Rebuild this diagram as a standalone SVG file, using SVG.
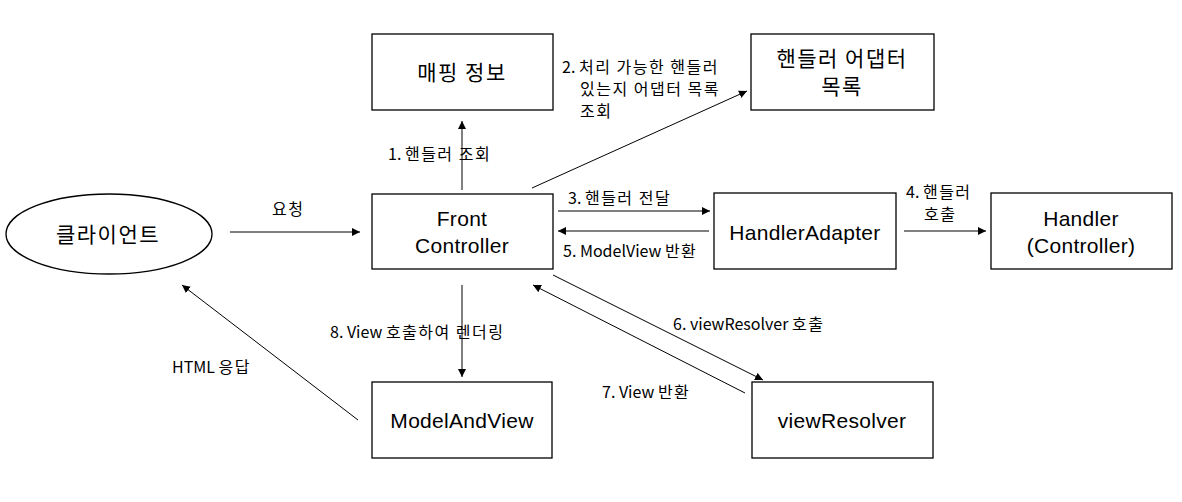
<svg xmlns="http://www.w3.org/2000/svg" width="1182" height="502" viewBox="0 0 1182 502">
<style>
.box{fill:#fff;stroke:#000;stroke-width:1.3}
.nt{font-family:"Noto Sans CJK KR","Noto Sans",sans-serif;font-size:21px;text-anchor:middle;fill:#000;letter-spacing:0.3px}
.lt{font-family:"Liberation Sans","Noto Sans",sans-serif;font-size:21px;text-anchor:middle;fill:#000;letter-spacing:0.3px}
.lb{font-family:"Noto Sans CJK KR","Noto Sans",sans-serif;font-size:16px;fill:#000}
.k{letter-spacing:1.5px}
.ln{stroke:#000;stroke-width:1;fill:none;marker-end:url(#ah)}
</style>
<defs>
<marker id="ah" viewBox="0 0 10 10" refX="10" refY="5" markerWidth="8" markerHeight="8" markerUnits="userSpaceOnUse" orient="auto">
<path d="M0,0 L10,5 L0,10 z" fill="#000"/>
</marker>
</defs>
<rect width="1182" height="502" fill="#fff"/>
<g id="client"><ellipse class="box" cx="109" cy="234" rx="103" ry="40"/><text class="nt k" x="108" y="242">클라이언트</text></g>
<g id="mapping"><rect class="box" x="372" y="34" width="181" height="76"/><text class="nt k" x="462" y="80">매핑 정보</text></g>
<g id="adapterList"><rect class="box" x="751" y="34" width="183" height="76"/><text class="nt k" x="842" y="66">핸들러 어댑터</text><text class="nt k" x="842" y="94">목록</text></g>
<g id="front"><rect class="box" x="372" y="194" width="181" height="75"/><text class="lt" x="462" y="226">Front</text><text class="lt" x="462" y="253">Controller</text></g>
<g id="handlerAdapter"><rect class="box" x="714" y="193" width="182" height="76"/><text class="lt" x="805" y="240">HandlerAdapter</text></g>
<g id="handler"><rect class="box" x="991" y="193" width="181" height="76"/><text class="lt" x="1081" y="226">Handler</text><text class="lt" x="1081" y="253">(Controller)</text></g>
<g id="modelAndView"><rect class="box" x="372" y="382" width="180" height="76"/><text class="lt" x="462" y="428">ModelAndView</text></g>
<g id="viewResolver"><rect class="box" x="752" y="382" width="181" height="76"/><text class="lt" x="842" y="428">viewResolver</text></g>
<g id="connectors">
<line class="ln" x1="230" y1="232" x2="360" y2="232"/>
<line class="ln" x1="462" y1="190" x2="462" y2="121"/>
<line class="ln" x1="532" y1="188" x2="747" y2="91"/>
<line class="ln" x1="558" y1="211" x2="710" y2="211"/>
<line class="ln" x1="709" y1="231" x2="558" y2="231"/>
<line class="ln" x1="904" y1="231" x2="986" y2="231"/>
<line class="ln" x1="462" y1="285" x2="462" y2="377"/>
<line class="ln" x1="553" y1="275" x2="763" y2="380"/>
<line class="ln" x1="745" y1="393" x2="533" y2="285"/>
<line class="ln" x1="358" y1="420" x2="182" y2="285"/>
</g>
<g id="labels">
<text class="lb k" x="272" y="215">요청</text>
<text class="lb" x="388" y="160">1. <tspan class="k">핸들러 조회</tspan></text>
<text class="lb" x="562" y="73">2. <tspan class="k">처리 가능한 핸들러</tspan></text>
<text class="lb k" x="580" y="95">있는지 어댑터 목록</text>
<text class="lb k" x="580" y="117">조회</text>
<text class="lb" x="568" y="204">3. <tspan class="k">핸들러 전달</tspan></text>
<text class="lb" x="563" y="257">5. ModelView <tspan class="k">반환</tspan></text>
<text class="lb" x="906" y="198">4. <tspan class="k">핸들러</tspan></text>
<text class="lb k" x="924" y="220">호출</text>
<text class="lb" x="330" y="338">8. View <tspan class="k">호출하여 렌더링</tspan></text>
<text class="lb" x="673" y="330">6. viewResolver <tspan class="k">호출</tspan></text>
<text class="lb" x="602" y="398">7. View <tspan class="k">반환</tspan></text>
<text class="lb" x="172" y="373">HTML <tspan class="k">응답</tspan></text>
</g>
</svg>
